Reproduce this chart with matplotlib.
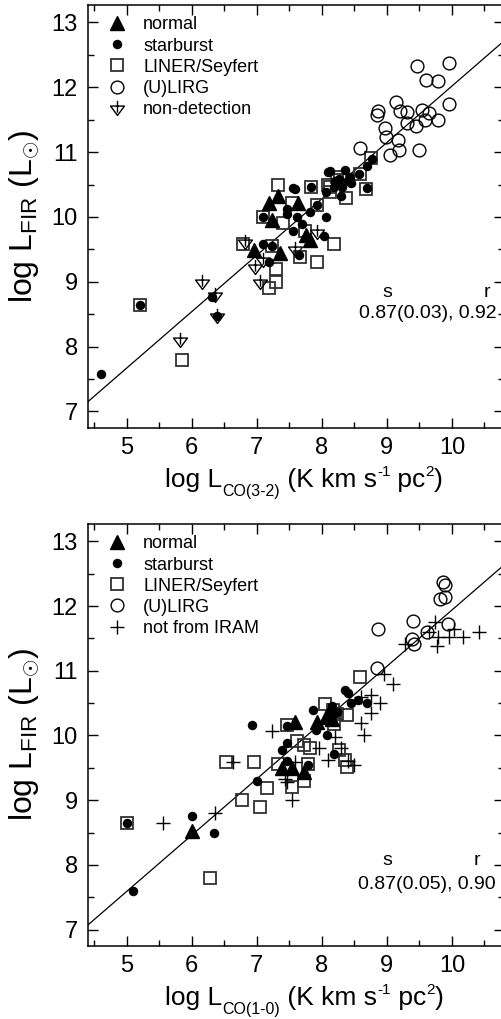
import matplotlib
matplotlib.use("Agg")
import matplotlib.pyplot as plt
import numpy as np
from matplotlib.path import Path
from matplotlib.lines import Line2D

plt.rcParams["font.family"] = ["Liberation Sans", "DejaVu Sans"]
plt.rcParams["mathtext.fontset"] = "custom"
plt.rcParams["mathtext.rm"] = "Liberation Sans"
plt.rcParams["mathtext.it"] = "Liberation Sans:italic"

# ---- top panel: CO(3-2) ----
top_normal_x = [7.33, 7.19, 7.64, 7.23, 6.95, 7.36, 7.82, 7.75]
top_normal_y = [10.33, 10.22, 10.22, 9.96, 9.49, 9.44, 9.64, 9.72]

top_sb_x = [4.60, 5.20, 6.31, 6.39, 8.10, 7.56, 7.83, 7.46, 7.46, 7.62, 7.82, 7.92, 8.07,
            7.10, 7.56, 7.69, 7.10, 7.23, 7.19, 7.65, 8.04, 8.77, 8.69, 8.57, 8.35, 8.12,
            8.27, 8.44, 8.45, 8.31, 8.18, 8.07, 8.30, 8.69, 7.58, 8.20, 8.40]
top_sb_y = [7.58, 8.64, 8.76, 8.48, 10.69, 10.44, 10.46, 10.13, 10.05, 10.00, 10.08, 10.18, 10.00,
            10.00, 9.79, 9.89, 9.59, 9.56, 9.31, 9.41, 9.70, 10.90, 10.78, 10.66, 10.73, 10.71,
            10.59, 10.62, 10.52, 10.46, 10.46, 10.39, 10.33, 10.44, 10.43, 10.55, 10.55]

top_agn_x = [7.33, 7.83, 7.09, 7.40, 7.54, 7.92, 6.78, 7.23, 8.19, 7.66, 7.92, 7.29, 7.29,
             7.19, 5.20, 7.74, 8.28, 8.13, 5.85, 8.76, 8.58, 8.68, 8.37, 8.12, 8.23, 8.10]
top_agn_y = [10.49, 10.46, 10.00, 9.91, 10.21, 10.18, 9.59, 9.56, 9.59, 9.39, 9.30, 9.20, 9.00,
             8.90, 8.64, 9.79, 10.57, 10.39, 7.80, 10.91, 10.66, 10.43, 10.30, 10.46, 10.62, 10.49]

top_ulirg_x = [9.47, 9.96, 9.60, 9.78, 9.14, 8.86, 8.84, 9.31, 9.20, 9.54, 9.64, 9.96,
               9.31, 9.45, 9.59, 9.79, 8.97, 8.99, 9.17, 9.19, 9.05, 9.50, 8.59]
top_ulirg_y = [12.33, 12.38, 12.12, 12.09, 11.77, 11.64, 11.58, 11.62, 11.63, 11.65, 11.60, 11.74,
               11.45, 11.40, 11.49, 11.49, 11.37, 11.23, 11.18, 11.03, 10.96, 11.04, 11.06]

top_nd_x = [5.82, 6.15, 6.36, 6.39, 6.82, 6.97, 7.05, 7.10, 7.59, 7.92]
top_nd_y = [8.10, 9.00, 8.79, 8.48, 9.61, 9.23, 9.00, 9.33, 9.51, 9.77]

top_fit = (0.87, 3.32)
top_stats = "0.87(0.03), 0.92"

# ---- bottom panel: CO(1-0) ----
bot_normal_x = [6.00, 7.59, 7.92, 8.07, 7.38, 7.54, 7.73, 8.15, 8.12]
bot_normal_y = [8.52, 10.21, 10.21, 10.28, 9.49, 9.49, 9.43, 10.25, 10.40]

bot_sb_x = [5.00, 5.09, 6.00, 6.34, 7.00, 6.93, 7.46, 7.46, 7.38, 7.47, 7.79, 7.87, 8.36,
            8.15, 8.23, 8.08, 7.91, 8.18, 8.55, 8.45, 8.70, 8.40]
bot_sb_y = [8.64, 7.59, 8.76, 8.49, 9.29, 10.17, 10.14, 9.88, 9.78, 9.60, 9.55, 10.39, 10.71,
            10.46, 10.36, 10.00, 10.08, 9.71, 10.55, 10.50, 10.50, 10.65]

bot_agn_x = [5.00, 6.28, 6.77, 7.05, 7.15, 7.54, 7.73, 6.53, 6.95, 7.33, 7.47, 7.62, 7.72,
             7.82, 7.78, 8.05, 8.17, 8.24, 8.38, 8.18, 8.26, 8.38, 8.59, 8.36]
bot_agn_y = [8.64, 7.79, 9.00, 8.90, 9.19, 9.20, 9.29, 9.59, 9.59, 9.56, 10.16, 9.92, 9.86,
             9.80, 9.56, 10.49, 10.39, 10.34, 10.31, 10.18, 9.77, 9.51, 10.90, 9.62]

bot_ulirg_x = [9.86, 9.89, 9.82, 9.89, 9.40, 9.94, 8.86, 9.61, 9.38, 9.42, 8.85]
bot_ulirg_y = [12.37, 12.32, 12.11, 12.14, 11.77, 11.73, 11.65, 11.60, 11.49, 11.42, 11.05]

bot_other_x = [9.74, 9.28, 9.64, 9.79, 9.95, 10.17, 10.41, 9.77, 10.03, 7.23, 6.63, 7.46,
               6.36, 7.54, 7.95, 8.20, 8.10, 8.29, 7.59, 7.44, 5.56, 8.60, 8.75, 8.40,
               8.50, 8.90, 8.65, 8.95, 9.10, 8.75, 8.60]
bot_other_y = [11.75, 11.42, 11.60, 11.52, 11.52, 11.53, 11.60, 11.39, 11.65, 10.07, 9.59, 9.28,
               8.80, 9.00, 9.80, 9.98, 9.62, 9.80, 9.59, 9.32, 8.64, 10.20, 10.35, 9.60,
               9.55, 10.50, 10.00, 10.95, 10.80, 10.62, 10.60]

bot_fit = (0.87, 3.24)
bot_stats = "0.87(0.05), 0.90"

# upper-limit marker: open down-triangle with a vertical stick
nd_marker = Path(
    [(-1, 0.35), (1, 0.35), (0, -1.0), (-1, 0.35), (0, 1.1), (0, -0.6)],
    [Path.MOVETO, Path.LINETO, Path.LINETO, Path.CLOSEPOLY, Path.MOVETO, Path.LINETO],
)

sq_col = "#303030"
sty_norm = dict(marker="^", ms=10.5, color="black", ls="none")
sty_sb = dict(marker="o", ms=5.8, color="black", ls="none")
sty_agn = dict(marker="s", ms=8.5, mfc="none", mec=sq_col, mew=1.3, ls="none")
sty_ulirg = dict(marker="o", ms=9.2, mfc="none", mec="black", mew=1.0, ls="none")
sty_nd = dict(marker=nd_marker, ms=11, mfc="none", mec="black", mew=1.0, ls="none")
sty_other = dict(marker="+", ms=10, color="black", mew=1.0, ls="none")

fig = plt.figure(figsize=(5.02, 10.19), dpi=100)
ax1 = fig.add_axes([0.1747, 0.5803, 0.8293, 0.4148])
ax2 = fig.add_axes([0.1747, 0.0719, 0.8293, 0.4139])


def style_axes(ax):
    ax.set_xlim(4.4, 10.8)
    ax.set_ylim(6.75, 13.27)
    ax.set_xticks(np.arange(5, 11, 1))
    ax.set_xticks(np.arange(4.5, 11, 0.5), minor=True)
    ax.set_yticks(np.arange(7, 14, 1))
    ax.set_yticks(np.arange(7, 13.5, 0.5), minor=True)
    ax.tick_params(which="both", direction="in", top=True, right=True, width=1.0)
    ax.tick_params(which="major", length=7, labelsize=17, pad=7)
    ax.tick_params(which="minor", length=4)
    for s in ax.spines.values():
        s.set_linewidth(1.1)


def fit_line(ax, fit):
    xs = np.array(ax.get_xlim())
    ax.plot(xs, fit[0] * xs + fit[1], color="black", lw=0.9, zorder=1)


def x_label(ax, x0, base, parts):
    # pieces of the label laid end to end, sub/superscripts shifted in points
    prev = ax.text(x0, base, parts[0][0], fontsize=parts[0][1], transform=fig.transFigure,
                   ha="left", va="baseline")
    for txt, size, dy in parts[1:]:
        prev = ax.annotate(txt, xy=(1, base), xycoords=(prev, "figure fraction"),
                           xytext=(0, dy), textcoords="offset points", fontsize=size,
                           ha="left", va="baseline", annotation_clip=False)


def legend(ax, handles, labels):
    ax.legend(handles, labels, loc="upper left", bbox_to_anchor=(0.036, 0.973),
              frameon=False, fontsize=13, numpoints=1, handlelength=1.6,
              handletextpad=0.64, labelspacing=0.23, borderpad=0, borderaxespad=0)


ylab = r"log L$_{\mathrm{FIR}}$ (L$_{\odot}$)"

# top panel
style_axes(ax1)
fit_line(ax1, top_fit)
ax1.plot(top_agn_x, top_agn_y, **sty_agn, zorder=2)
ax1.plot(top_ulirg_x, top_ulirg_y, **sty_ulirg, zorder=2)
ax1.plot(top_nd_x, top_nd_y, **sty_nd, zorder=3)
ax1.plot(top_normal_x, top_normal_y, **sty_norm, zorder=4)
ax1.plot(top_sb_x, top_sb_y, **sty_sb, zorder=5)
x_label(ax1, 0.329, 0.522, [("log L", 19, 0), ("CO(3-2)", 11.5, -6.5), (" (K km s", 19, 0),
                            ("-1", 11, 8), (" pc", 19, 0), ("2", 11, 8), (")", 19, 0)])
ax1.set_ylabel(ylab, fontsize=23, labelpad=8)
ax1.text(0.719, 0.319, "s", transform=ax1.transAxes, ha="center", va="center", fontsize=14)
ax1.text(0.959, 0.319, "r", transform=ax1.transAxes, ha="center", va="center", fontsize=14)
ax1.text(0.983, 0.269, top_stats, transform=ax1.transAxes, ha="right", va="center", fontsize=14)
legend(ax1, [Line2D([], [], **sty_norm), Line2D([], [], **sty_sb), Line2D([], [], **sty_agn),
             Line2D([], [], **sty_ulirg), Line2D([], [], **sty_nd)],
       ["normal", "starburst", "LINER/Seyfert", "(U)LIRG", "non-detection"])

# bottom panel
style_axes(ax2)
fit_line(ax2, bot_fit)
ax2.plot(bot_agn_x, bot_agn_y, **sty_agn, zorder=2)
ax2.plot(bot_ulirg_x, bot_ulirg_y, **sty_ulirg, zorder=2)
ax2.plot(bot_other_x, bot_other_y, **sty_other, zorder=3)
ax2.plot(bot_normal_x, bot_normal_y, **sty_norm, zorder=4)
ax2.plot(bot_sb_x, bot_sb_y, **sty_sb, zorder=5)
x_label(ax2, 0.329, 0.0137, [("log L", 19, 0), ("CO(1-0)", 11.5, -6.5), (" (K km s", 19, 0),
                             ("-1", 11, 8), (" pc", 19, 0), ("2", 11, 8), (")", 19, 0)])
ax2.set_ylabel(ylab, fontsize=23, labelpad=8)
ax2.text(0.719, 0.203, "s", transform=ax2.transAxes, ha="center", va="center", fontsize=14)
ax2.text(0.935, 0.203, "r", transform=ax2.transAxes, ha="center", va="center", fontsize=14)
ax2.text(0.980, 0.146, bot_stats, transform=ax2.transAxes, ha="right", va="center", fontsize=14)
legend(ax2, [Line2D([], [], **sty_norm), Line2D([], [], **sty_sb), Line2D([], [], **sty_agn),
             Line2D([], [], **sty_ulirg), Line2D([], [], **sty_other)],
       ["normal", "starburst", "LINER/Seyfert", "(U)LIRG", "not from IRAM"])

fig.savefig("out.png", dpi=100)
